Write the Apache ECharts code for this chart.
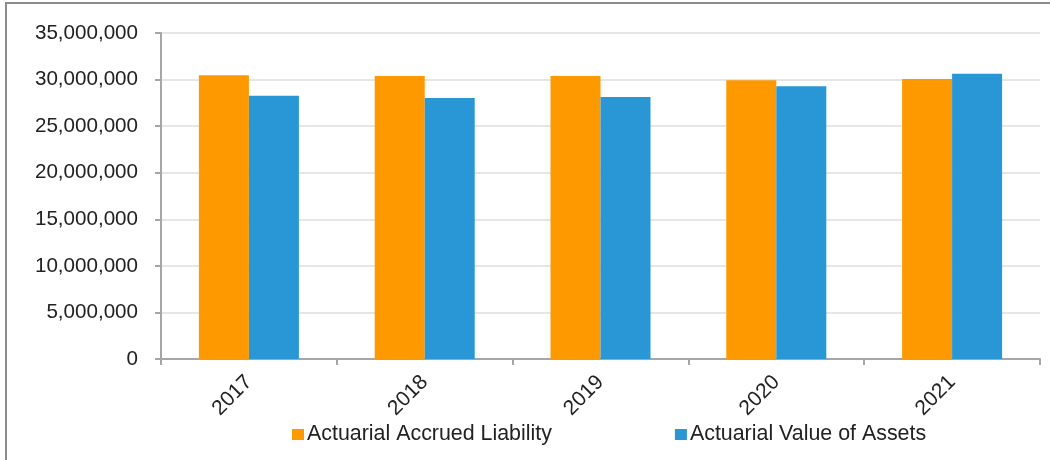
<!DOCTYPE html>
<html>
<head>
<meta charset="utf-8">
<script src="https://cdn.jsdelivr.net/npm/echarts@6/dist/echarts.min.js"></script>
<style>
  html, body { margin: 0; padding: 0; background: #fff; }
  #mychart { width: 1050px; height: 460px; }
</style>
</head>
<body>
<div id="mychart"></div>
<script>
  // 年份
  const years = ['2017', '2018', '2019', '2020', '2021']
  // 精算应计负债
  const liability = [30460000, 30380000, 30380000, 29920000, 30060000]
  // 精算资产价值
  const assets = [28270000, 28020000, 28130000, 29280000, 30630000]
  const seriesNames = ['Actuarial Accrued Liability', 'Actuarial Value of Assets']

  const font = 'Liberation Sans, Arial, sans-serif'

  const option = {
    animation: false,
    textStyle: { fontFamily: font },
    graphic: [
      {
        // 外框（只露出左边和上边）
        type: 'rect',
        shape: { x: 6, y: 3, width: 1200, height: 600 },
        style: { fill: 'none', stroke: '#8c8c8c', lineWidth: 2 },
        silent: true,
      },
    ],
    grid: { left: 161, right: 10, top: 33, bottom: 101 },
    legend: {
      left: 287,
      top: 419,
      itemWidth: 12,
      itemHeight: 11,
      itemGap: 123,
      icon: 'rect',
      textStyle: { fontSize: 21.4, color: '#222', fontFamily: font, padding: [0, 0, 0, -2] },
      data: seriesNames,
    },
    xAxis: {
      type: 'category',
      data: years,
      axisLine: { lineStyle: { color: '#a6a6a6', width: 2 } },
      axisTick: { show: true, length: 6, lineStyle: { color: '#a6a6a6', width: 2 } },
      axisLabel: { rotate: 45, fontSize: 21, color: '#222', margin: 20 },
    },
    yAxis: {
      type: 'value',
      min: 0,
      max: 35000000,
      interval: 5000000,
      axisLine: { show: true, lineStyle: { color: '#a6a6a6', width: 2 } },
      axisTick: { show: true, length: 6, lineStyle: { color: '#a6a6a6', width: 2 } },
      splitLine: { lineStyle: { color: '#e6e6e6', width: 2 } },
      axisLabel: {
        fontSize: 20.6,
        color: '#222',
        margin: 23,
        formatter: (v) => v.toLocaleString('en-US'),
      },
    },
    series: [
      {
        name: seriesNames[0],
        type: 'bar',
        data: liability,
        barWidth: 50,
        barGap: '0%',
        itemStyle: { color: '#ff9900' },
      },
      {
        name: seriesNames[1],
        type: 'bar',
        data: assets,
        barWidth: 50,
        itemStyle: { color: '#2996d5' },
      },
    ],
  }

  const myChart = echarts.init(document.getElementById('mychart'))
  myChart.setOption(option)
</script>
</body>
</html>
